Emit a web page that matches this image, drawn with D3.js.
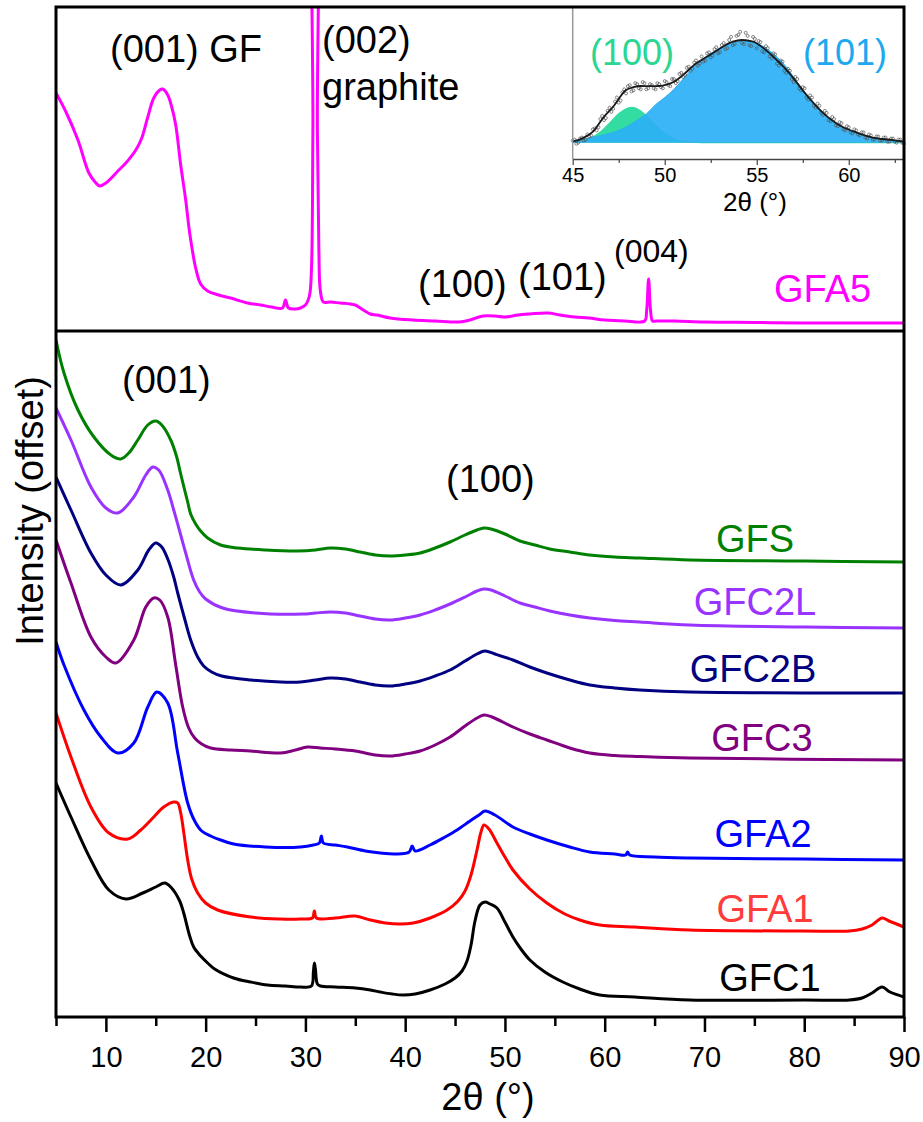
<!DOCTYPE html>
<html><head><meta charset="utf-8">
<script src="https://cdn.jsdelivr.net/npm/d3@7"></script>
<style>
body{margin:0;background:#fff}
svg{display:block}
text{font-family:"Liberation Sans",Arial,Helvetica,sans-serif}
</style>
</head><body>
<svg id="chart" width="923" height="1122"></svg>
<script>
// ---------------- DATA ----------------
const xMajorTicks = [10,20,30,40,50,60,70,80,90];
const xMinorTicks = [5,15,25,35,45,55,65,75,85];
const insetMajorTicks = [45,50,55,60];
const insetMinorTicks = [47.5,52.5,57.5,62.5];

const seriesNames = ["GFS","GFC2L","GFC2B","GFC3","GFA2","GFA1","GFC1"];

// [2theta, intensity (offset, a.u.)]
const GFS = [[5.0,677],[5.8,644],[7.2,607],[8.8,580],[10.5,562],[11.5,558],[12.3,564],[13.2,577],[14.2,592],[15.0,596],[15.6,592],[16.5,577],[17.1,560],[17.5,543],[18.2,515],[18.5,503],[19.0,493],[19.5,486],[20.2,479],[21.5,472],[23.2,469],[26.0,467],[29.2,466],[31.0,467],[32.5,469],[34.0,468],[35.5,465],[37.0,462],[38.5,461],[40.0,462],[41.5,464],[43.0,469],[44.5,475],[46.0,482],[47.2,487],[47.9,489],[48.6,488],[50.0,483],[51.5,476],[53.0,472],[54.5,468],[56.5,465],[58.5,462],[61.0,460],[63.5,459],[68.5,457],[80.0,456],[90.0,455]];
const GFC2L = [[5.0,609],[6.5,577],[8.5,530],[10.0,509],[11.2,504],[12.8,520],[14.0,542],[14.7,550],[15.3,547],[16.2,527],[16.8,507],[17.5,482],[18.0,464],[18.8,437],[19.4,425],[20.0,418],[21.7,409],[25.0,404],[29.7,403],[31.0,404],[32.5,405],[34.0,404],[35.5,401],[37.0,398],[38.5,397],[40.0,399],[41.5,402],[43.0,407],[44.5,413],[46.0,420],[47.2,426],[47.9,428],[48.6,427],[50.0,421],[51.5,414],[53.0,410],[54.5,406],[56.5,402],[58.5,399],[61.0,396.5],[63.5,395],[68.5,392],[80.0,390],[90.0,389]];
const GFC2B = [[5.0,540],[6.5,507],[8.5,464],[10.0,442],[11.5,432],[13.2,447],[14.3,467],[15.0,474],[15.6,470],[16.2,458],[16.8,440],[17.2,424],[17.9,398],[18.5,377],[19.2,360],[19.8,351],[20.6,345],[21.6,341],[24.5,337],[27.5,335],[29.5,335],[31.0,337],[32.5,339],[34.0,338],[35.5,335],[37.0,332],[38.5,331],[40.0,333],[41.5,336],[43.0,341],[44.5,347],[46.0,356],[47.2,363],[48.0,366],[49.0,363],[50.8,357],[52.5,350],[54.2,344],[56.5,337],[58.5,332],[61.0,329],[63.5,327],[68.5,325],[90.0,324]];
const GFC3 = [[5.0,477],[6.5,434],[8.5,380],[10.0,360],[11.0,354],[12.8,377],[14.0,410],[14.8,419],[15.4,417],[16.2,400],[17.0,352],[17.7,310],[18.3,289],[18.9,279],[19.6,273],[20.5,269],[22.5,267],[24.5,266],[27.5,264],[29.0,267],[30.2,270],[31.5,269],[33.0,268],[35.0,266],[37.0,262],[38.5,261],[40.0,263],[41.5,266],[43.0,272],[44.5,280],[46.0,291],[47.2,299],[47.9,302],[48.7,300],[50.8,290],[52.5,283],[54.2,277],[56.5,269],[58.5,264],[61.0,261.5],[63.5,260.5],[68.5,259],[90.0,257]];
const GFA2 = [[5.0,375],[5.8,352],[7.8,307],[9.5,280],[11.2,264],[12.8,274],[14.2,310],[15.1,325],[16.2,314],[17.2,264],[18.2,214],[18.9,196],[19.6,186],[20.5,181],[21.5,177],[22.8,173],[26.0,170],[29.5,170],[30.8,172],[31.4,174],[31.6,181],[31.8,174],[33.0,172],[34.2,170],[36.0,166],[37.5,164],[39.0,163],[40.4,165],[40.7,171],[41.0,166],[42.5,172],[44.0,180],[45.2,187],[46.5,196],[47.4,202],[48.0,206],[49.0,202],[50.8,190],[52.5,183],[54.2,177],[56.5,170],[58.5,165],[61.0,163],[62.1,162],[62.3,165],[62.5,162],[65.0,160],[68.5,159],[80.0,158],[90.0,157]];
const GFA1 = [[5.0,304],[6.5,260],[8.5,210],[10.3,184],[12.2,178],[13.5,187],[14.8,200],[15.8,210],[16.8,215],[17.2,214],[17.5,204],[17.8,185],[18.2,157],[18.6,138],[19.2,124],[20.0,114],[21.2,107],[24.5,100],[27.5,98],[29.5,98],[30.7,99],[30.9,106],[31.1,99],[33.0,99],[35.0,101],[36.5,97],[38.0,94],[39.5,93],[40.8,94],[42.5,99],[44.2,107],[45.3,116],[46.0,126],[46.6,142],[47.2,167],[47.6,185],[47.9,192],[48.4,188],[49.2,174],[50.0,160],[50.8,147],[52.5,128],[54.2,114],[56.0,103],[57.5,97],[59.5,92],[63.0,90],[68.5,87],[80.0,86],[84.5,86],[85.8,88],[86.8,92],[87.8,99],[88.5,96],[90.0,90]];
const GFC1 = [[5.0,234],[6.5,200],[8.5,157],[10.3,127],[12.0,118],[13.7,124],[15.0,130],[15.9,134],[16.5,130],[17.4,116],[17.8,104],[18.4,81],[18.8,70],[19.5,61],[20.2,54],[20.9,48],[22.8,39],[24.5,35],[26.2,32],[28.0,31],[29.5,30],[30.6,31],[30.8,45],[30.9,54],[31.0,48],[31.2,33],[31.5,31],[33.0,30],[35.0,29],[36.5,27],[37.5,25],[38.7,23],[39.8,22],[41.0,23],[42.5,27],[44.0,33],[45.0,39],[45.7,46],[46.2,56],[46.6,72],[47.0,96],[47.5,112],[48.0,115],[48.5,113],[49.2,109],[50.0,95],[50.8,80],[51.6,68],[52.5,57],[54.0,45],[55.8,35],[57.5,28],[59.5,22],[63.0,20],[68.5,17],[80.0,17],[84.5,17],[85.8,19],[86.8,24],[87.8,30],[88.6,25],[90.0,20]];

// top panel
const GFA5 = [[5.0,238],[6.0,219],[7.2,191],[8.3,158],[9.0,148],[9.4,145],[10.0,148],[11.3,161],[12.0,168],[13.0,181],[13.6,193],[14.2,214],[14.8,233],[15.4,241],[15.7,242],[16.2,236],[16.6,224],[17.0,206],[17.5,166],[18.0,131],[18.4,98],[19.0,63],[19.5,47],[20.2,40],[21.3,36],[22.5,33],[24.2,28],[25.5,26],[26.6,24],[27.7,23],[28.0,31],[28.3,23],[29.0,22],[29.5,23],[30.0,26],[30.4,35],[30.6,60],[30.75,200],[30.9,500],[31.05,500],[31.2,200],[31.35,80],[31.5,40],[31.8,29],[32.5,29],[33.5,28],[34.5,27],[35.0,26],[35.8,21],[36.5,17],[37.2,16],[38.5,13],[40.7,11],[43.0,10],[45.4,9],[46.5,11],[47.8,15],[49.0,15],[50.0,14],[51.3,16],[52.5,17],[54.3,18],[55.5,16],[57.0,14],[58.4,13],[60.0,11],[62.0,10],[64.0,10],[64.2,20],[64.4,52],[64.6,20],[64.8,10],[65.2,10],[67.0,10],[70.0,9],[75.0,8.5],[80.0,8],[90.0,8]];

// inset: raw points measured from 45.0 deg every 0.1 deg
const insetRawStart = 45.0, insetRawStep = 0.1;
const insetRaw = [2,3,-1,0,4,5,2,3,8,6,
 7,13,14,12,15,23,26,22,24,31,
 34,30,33,40,44,39,41,49,52,48,
 55,56,50,51,58,57,53,52,59,58,
 52,53,57,56,53,52,58,57,54,53,
 60,59,56,55,62,62,58,60,67,68,
 64,66,73,74,70,72,78,80,75,77,
 84,79,80,87,88,83,85,91,93,87,
 88,95,97,91,92,100,103,95,96,104,
 105,108,97,96,107,104,95,94,103,101,
 92,99,98,89,88,94,92,84,82,87,
 86,77,75,80,79,70,68,72,70,62,
 59,64,62,53,51,54,53,44,42,46,
 44,36,34,38,36,29,27,31,29,22,
 21,25,23,17,16,20,19,13,12,16,
 15,10,9,13,12,8,7,10,10,5,
 4,8,7,3,3,6,6,2,2,5,
 5,1,1,4,4,1,0,3,3,0,-1];
const insetFit = [[45,1],[45.5,4],[46.1,10.7],[46.7,25.3],[47.2,35.1],[47.9,51.3],[48.3,54],[48.7,55.2],[49.2,55],[49.7,55.2],[50.1,56.5],[50.5,59.4],[51.0,66],[51.6,75.7],[52.6,87],[53.2,94],[53.7,98.4],[54.2,100],[54.8,98.4],[55.3,93],[55.9,83.7],[56.5,73],[57.0,62.7],[57.5,51],[58.1,38.3],[58.6,29],[59.2,20.4],[59.7,15],[60.3,10.7],[60.8,7.5],[61.3,4.9],[61.8,3.6],[62.4,2.6],[63,1]];
const insetPeak100 = [[45,0.5],[45.5,2],[46,4.7],[46.5,10.4],[47,19],[47.5,28.2],[48,33.8],[48.2,34.4],[48.5,33.1],[49,26.4],[49.5,17.1],[50,9],[50.5,3.9],[51,1.3],[52,0.1],[53,0],[63,0]];
const insetPeak101 = [[45,2],[46,5],[47,9],[47.5,12],[48,16],[48.5,22],[49,28],[49.5,37],[50,44],[50.5,52],[51,62],[51.5,72],[52,80],[52.5,87],[53,92],[53.5,96.5],[54,99.5],[54.2,100],[54.5,99.5],[55,97],[55.5,92],[56,85],[56.5,76],[57,64],[57.5,51],[58,40],[58.5,31],[59,23],[59.5,17],[60,12],[60.5,9.5],[61,6],[61.5,4.3],[62,3],[62.5,2],[63,1]];

// ---------------- STYLE / LAYOUT ----------------
const seriesData = [GFS,GFC2L,GFC2B,GFC3,GFA2,GFA1,GFC1];
const seriesColors = ["#008000","#9933ff","#000080","#800080","#0000ff","#ff0000","#000000"];
const labelColors  = ["#008000","#9933ff","#000080","#800080","#0000ff","#ff3b3b","#000000"];
const labelCenters = [755,755,753,762,763,765,770];
const labelBaselines = [552,615,682,751,847,922,991];

const L=56, R=904, TOP=7, MID=331, BOT=1017;
const svg = d3.select("#chart");
const x = d3.scaleLinear().domain([5,90]).range([L,R]);
const yB = d3.scaleLinear().domain([0,686]).range([BOT,MID]);
const yT = d3.scaleLinear().domain([0,324]).range([MID,TOP]);
const smooth = d3.curveCatmullRom.alpha(0.5);

const defs = svg.append("defs");
defs.append("clipPath").attr("id","clipTop").append("rect").attr("x",L).attr("y",TOP).attr("width",R-L).attr("height",MID-TOP);
defs.append("clipPath").attr("id","clipBot").append("rect").attr("x",L).attr("y",MID).attr("width",R-L).attr("height",BOT-MID);

// bottom curves
const lineB = d3.line().x(d=>x(d[0])).y(d=>yB(d[1])).curve(smooth);
const gB = svg.append("g").attr("clip-path","url(#clipBot)");
seriesData.forEach((s,i)=>{
  gB.append("path").datum(s).attr("d",lineB).attr("fill","none")
    .attr("stroke",seriesColors[i]).attr("stroke-width",3).attr("stroke-linejoin","round");
});

// top curve
const lineT = d3.line().x(d=>x(d[0])).y(d=>yT(d[1])).curve(smooth);
svg.append("g").attr("clip-path","url(#clipTop)")
  .append("path").datum(GFA5).attr("d",lineT).attr("fill","none")
  .attr("stroke","#ff00ff").attr("stroke-width",3).attr("stroke-linejoin","round");

// ---------------- INSET ----------------
const xi = d3.scaleLinear().domain([45,63]).range([572.7,R]);
const yi = d3.scaleLinear().domain([0,100]).range([142.7,40]);
const gi = svg.append("g");
const areaI = d3.area().x(d=>xi(d[0])).y0(yi(0)).y1(d=>yi(d[1])).curve(d3.curveMonotoneX);
const lineI = d3.line().x(d=>xi(d[0])).y(d=>yi(d[1])).curve(d3.curveMonotoneX);
gi.append("path").datum(insetPeak100).attr("d",areaI).attr("fill","#33dca0");
gi.append("path").datum(insetPeak100).attr("d",lineI).attr("fill","none").attr("stroke","#33dca0").attr("stroke-width",1.2);
gi.append("path").datum(insetPeak101).attr("d",areaI).attr("fill","#2bb0f5").attr("fill-opacity",0.92);
gi.append("path").datum(insetPeak101).attr("d",lineI).attr("fill","none").attr("stroke","#2bb0f5").attr("stroke-width",1);
gi.selectAll("circle.raw").data(insetRaw).enter().append("circle")
  .attr("cx",(d,i)=>xi(insetRawStart+i*insetRawStep)).attr("cy",d=>yi(d)).attr("r",1.5)
  .attr("fill","none").attr("stroke","#555").attr("stroke-width",0.7);
gi.append("path").datum(insetFit).attr("d",lineI).attr("fill","none").attr("stroke","#1a1a1a").attr("stroke-width",1.8);
// inset axes
gi.append("line").attr("x1",xi(45)).attr("x2",xi(45)).attr("y1",TOP).attr("y2",159).attr("stroke","#999").attr("stroke-width",1.5);
const axI = gi.append("g").attr("transform","translate(0,159)")
  .call(d3.axisBottom(xi).tickValues(insetMajorTicks).tickSize(6).tickPadding(3).tickSizeOuter(0).tickFormat(d3.format("d")));
axI.select(".domain").attr("stroke","#444").attr("stroke-width",1.5);
axI.selectAll(".tick line").attr("stroke","#444").attr("stroke-width",1.2);
axI.selectAll("text").attr("font-size",20).attr("fill","#000").attr("font-family","Liberation Sans, Arial, sans-serif");
const axIm = gi.append("g").attr("transform","translate(0,159)")
  .call(d3.axisBottom(xi).tickValues(insetMinorTicks).tickSize(4).tickFormat(""));
axIm.select(".domain").remove();
axIm.selectAll(".tick line").attr("stroke","#444").attr("stroke-width",1.2);
gi.append("text").attr("x",755).attr("y",211).attr("text-anchor","middle").attr("font-size",26).text("2θ (°)");
gi.append("text").attr("x",590).attr("y",65).attr("font-size",36).attr("fill","#2bd692").text("(100)");
gi.append("text").attr("x",803).attr("y",65).attr("font-size",36).attr("fill","#1ea8f0").text("(101)");

// ---------------- FRAME & AXES ----------------
const frame = svg.append("g").attr("fill","none").attr("stroke","#000").attr("stroke-width",3);
frame.append("rect").attr("x",L).attr("y",TOP).attr("width",R-L).attr("height",BOT-TOP);
frame.append("line").attr("x1",L).attr("x2",R).attr("y1",MID).attr("y2",MID);

const ax = svg.append("g").attr("transform",`translate(0,${BOT})`)
  .call(d3.axisBottom(x).tickValues(xMajorTicks).tickSize(15).tickPadding(14).tickSizeOuter(0).tickFormat(d3.format("d")));
ax.select(".domain").remove();
ax.selectAll(".tick line").attr("stroke","#000").attr("stroke-width",2.5);
ax.selectAll("text").attr("font-size",29).attr("fill","#000").attr("font-family","Liberation Sans, Arial, sans-serif");
const axm = svg.append("g").attr("transform",`translate(0,${BOT})`)
  .call(d3.axisBottom(x).tickValues(xMinorTicks).tickSize(9).tickFormat(""));
axm.select(".domain").remove();
axm.selectAll(".tick line").attr("stroke","#000").attr("stroke-width",2.5);

svg.append("text").attr("x",488).attr("y",1110).attr("text-anchor","middle").attr("font-size",38).text("2θ (°)");
svg.append("text").attr("transform","translate(43,511) rotate(-90)").attr("text-anchor","middle").attr("font-size",38).text("Intensity (offset)");

// ---------------- ANNOTATIONS ----------------
const ann = svg.append("g").attr("font-size",38).attr("fill","#000");
ann.append("text").attr("x",110).attr("y",62).text("(001) GF");
ann.append("text").attr("x",322).attr("y",53).text("(002)");
ann.append("text").attr("x",322).attr("y",100).text("graphite");
ann.append("text").attr("x",418).attr("y",297).text("(100)");
ann.append("text").attr("x",518).attr("y",290).text("(101)");
ann.append("text").attr("x",614).attr("y",262).attr("font-size",32).text("(004)");
ann.append("text").attr("x",774).attr("y",302).attr("fill","#ff00ff").text("GFA5");
ann.append("text").attr("x",122).attr("y",393).text("(001)");
ann.append("text").attr("x",446).attr("y",492).text("(100)");

seriesNames.forEach((n,i)=>{
  svg.append("text").attr("x",labelCenters[i]).attr("y",labelBaselines[i]).attr("text-anchor","middle")
    .attr("font-size",38).attr("fill",labelColors[i]).text(n);
});
</script>
</body></html>
